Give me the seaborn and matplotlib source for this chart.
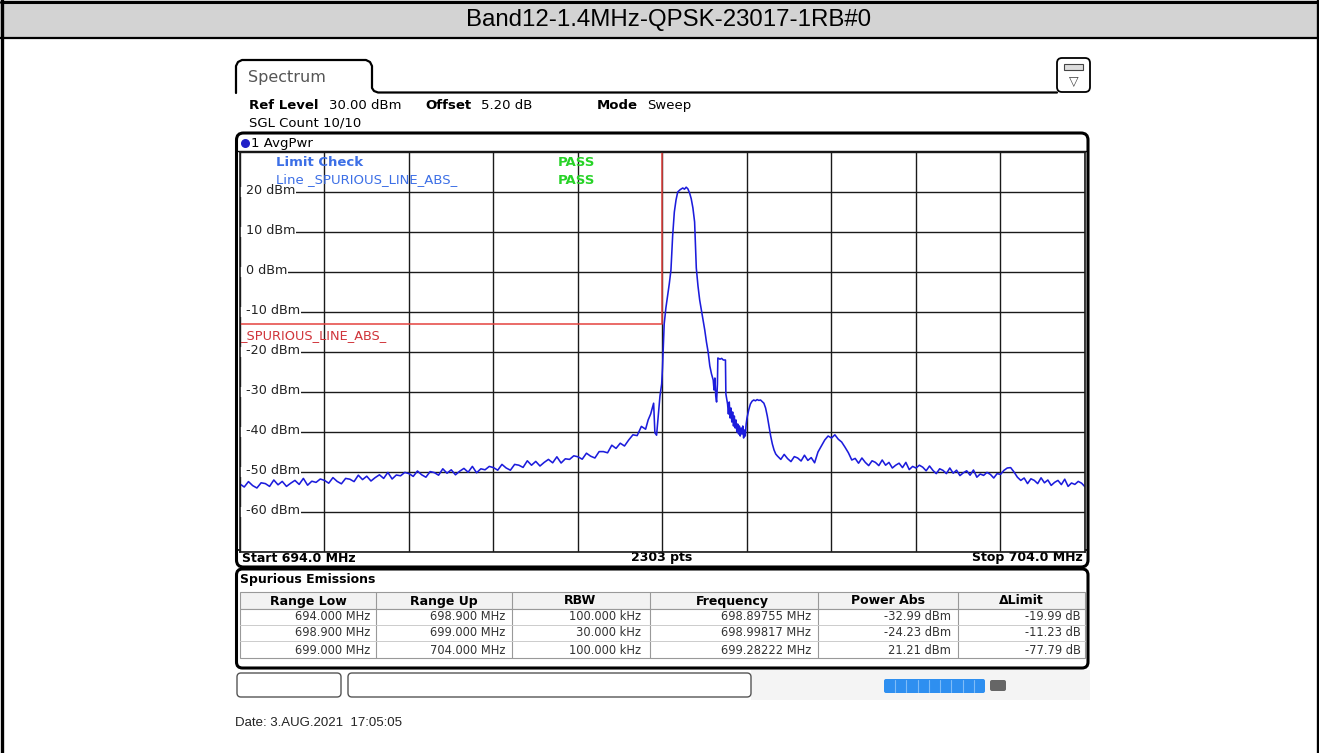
import numpy as np
import pandas as pd
import matplotlib
matplotlib.use("Agg")
import matplotlib.pyplot as plt
from matplotlib.patches import FancyBboxPatch, Rectangle
import seaborn as sns

# ---------------- data ----------------
title = "Band12-1.4MHz-QPSK-23017-1RB#0"
start_mhz, stop_mhz = 694.0, 704.0
x_grid = [694, 695, 696, 697, 698, 699, 700, 701, 702, 703, 704]
y_grid = [30, 20, 10, 0, -10, -20, -30, -40, -50, -60, -70]
y_labels = [20, 10, 0, -10, -20, -30, -40, -50, -60]

# noise floor below the carrier (evenly swept)
seg_a_start, seg_a_stop = 694.00, 698.80
seg_a_dbm = [-53.0, -53.75, -52.4, -53.4, -54.0, -52.7, -52.9, -53.6, -52.0, -53.2,
             -52.35, -53.6, -52.8, -52.1, -53.1, -51.6, -53.3, -52.3, -52.6, -51.75,
             -52.1, -52.8, -51.4, -52.35, -52.95, -51.6, -51.8, -52.4, -50.8, -51.9,
             -51.05, -52.25, -51.4, -50.7, -51.6, -50.1, -51.75, -50.75, -50.95, -50.1,
             -50.4, -51.1, -49.75, -50.7, -51.3, -49.9, -50.15, -50.8, -49.2, -50.3,
             -49.45, -50.7, -49.8, -49.1, -50.05, -48.6, -50.2, -49.2, -49.45, -48.6,
             -48.9, -49.55, -48.1, -49.0, -49.55, -48.1, -48.3, -48.85, -47.2, -48.3,
             -47.35, -48.5, -47.6, -46.85, -47.7, -46.2, -47.75, -46.7, -46.85, -45.95,
             -46.2, -46.8, -45.3, -46.05, -46.5, -44.9, -44.9, -45.2, -43.3, -44.1,
             -42.8, -43.5, -42.0, -40.7, -40.9, -38.6, -39.3]

# carrier region
seg_b_freq = [698.83, 698.86, 698.88, 698.895, 698.91, 698.93, 698.95, 698.97, 698.99, 699.00,
              699.02, 699.04, 699.06, 699.08, 699.10, 699.12, 699.14, 699.16, 699.18, 699.21,
              699.24, 699.26, 699.28, 699.30, 699.32, 699.34, 699.36, 699.38, 699.40, 699.42,
              699.44, 699.46, 699.48, 699.50, 699.52, 699.54, 699.56, 699.58, 699.60, 699.61,
              699.62, 699.63, 699.64, 699.65, 699.655, 699.68, 699.70, 699.72, 699.745, 699.75,
              699.77, 699.78, 699.79, 699.80, 699.81, 699.82, 699.83, 699.84, 699.85, 699.86,
              699.87, 699.88, 699.89, 699.90, 699.91, 699.92, 699.93, 699.94, 699.95, 699.96,
              699.97, 699.98, 699.99, 700.00, 700.02, 700.04, 700.06, 700.08, 700.10, 700.12,
              700.14, 700.16, 700.18, 700.20, 700.22, 700.24, 700.26, 700.28, 700.30, 700.32,
              700.34]
seg_b_dbm = [-37.0, -35.5, -34.0, -32.8, -40.2, -40.8, -36.0, -31.0, -28.0, -24.0,
             -13.0, -9.0, -6.0, -3.0, 0.5, 9.0, 15.0, 18.0, 20.0, 20.6,
             21.0, 20.7, 21.2, 20.8, 19.8, 18.3, 16.0, 12.5, 1.0, -3.5,
             -7.0, -9.5, -12.0, -14.5, -17.5, -20.0, -23.5, -25.5, -27.0, -29.5,
             -26.5, -31.0, -32.5, -28.0, -21.5, -21.8, -21.6, -22.0, -22.0, -30.5,
             -33.0, -35.5, -32.5, -36.5, -34.0, -37.5, -35.0, -38.5, -36.0, -39.0,
             -37.0, -40.0, -38.0, -40.5, -38.5, -41.0, -39.0, -40.5, -38.5, -41.5,
             -39.5, -41.0, -38.0, -36.5, -34.5, -33.0, -32.3, -32.0, -32.2, -31.9,
             -32.1, -32.0, -32.4, -32.8, -34.0, -36.0, -38.5, -41.0, -43.0, -44.5,
             -45.5]

# upper region (evenly swept)
seg_c_start, seg_c_stop = 700.36, 704.00
seg_c_dbm = [-46.0, -46.85, -45.6, -46.65, -47.4, -46.15, -46.5, -47.25, -45.8, -47.1,
             -46.4, -47.7, -45.0, -43.5, -42.0, -41.0, -41.5, -40.7, -41.8, -42.5,
             -43.8, -45.2, -47.0, -46.6, -47.8, -46.5, -47.6, -48.4, -47.2, -47.6,
             -48.4, -47.0, -48.3, -47.6, -49.0, -48.3, -47.8, -48.9, -47.6, -49.4,
             -48.6, -49.0, -48.3, -48.8, -49.7, -48.5, -49.6, -50.4, -49.2, -49.6,
             -50.4, -49.0, -50.3, -49.55, -50.9, -50.2, -49.7, -50.8, -49.5, -51.3,
             -50.5, -50.85, -50.1, -50.6, -51.5, -50.4, -50.6, -49.6, -49.0, -48.9,
             -50.0, -51.3, -52.1, -51.5, -52.9, -51.7, -52.1, -52.9, -51.45, -52.7,
             -52.0, -53.35, -52.6, -52.1, -53.15, -51.8, -53.6, -52.75, -53.1, -52.35,
             -52.8, -53.7]

limit_freq = [694.0, 699.0, 699.0]
limit_dbm = [-13.0, -13.0, 30.0]

table_headers = ["Range Low", "Range Up", "RBW", "Frequency", "Power Abs", "\u0394Limit"]
table_rows = [
    ["694.000 MHz", "698.900 MHz", "100.000 kHz", "698.89755 MHz", "-32.99 dBm", "-19.99 dB"],
    ["698.900 MHz", "699.000 MHz", "30.000 kHz", "698.99817 MHz", "-24.23 dBm", "-11.23 dB"],
    ["699.000 MHz", "704.000 MHz", "100.000 kHz", "699.28222 MHz", "21.21 dBm", "-77.79 dB"],
]

# ---------------- build trace ----------------
fa = np.linspace(seg_a_start, seg_a_stop, len(seg_a_dbm))
fc = np.linspace(seg_c_start, seg_c_stop, len(seg_c_dbm))
trace = pd.DataFrame({
    "freq": np.concatenate([fa, seg_b_freq, fc]),
    "dbm": np.concatenate([seg_a_dbm, seg_b_dbm, seg_c_dbm]),
})
limit = pd.DataFrame({"freq": limit_freq, "dbm": limit_dbm})

sns.set_style("white")
plt.rcParams["font.family"] = ["DejaVu Sans"]

W, H = 1319, 753
fig = plt.figure(figsize=(W / 100, H / 100), dpi=100)
fig.patch.set_facecolor("white")

# pixel overlay axes
bg = fig.add_axes([0, 0, 1, 1], zorder=0)
bg.set_xlim(0, W)
bg.set_ylim(H, 0)
bg.axis("off")

NARROW = ["Liberation Sans Narrow", "Liberation Sans", "DejaVu Sans"]
ARIAL = ["Liberation Sans", "DejaVu Sans"]

def T(x, y, s, size=9.5, color="black", weight="normal", ha="left", va="center", family=None, **kw):
    bg.text(x, y, s, fontsize=size, color=color, fontweight=weight, ha=ha, va=va,
            family=family if family else ["DejaVu Sans"], **kw)

def rbox(x0, y0, x1, y1, r=6, lw=1.5, ec="black", fc="none", z=1):
    bg.add_patch(FancyBboxPatch((x0, y0), x1 - x0, y1 - y0,
                                boxstyle=f"round,pad=0,rounding_size={r}",
                                lw=lw, ec=ec, fc=fc, zorder=z))

# title band and outer border
bg.add_patch(Rectangle((0, 0), W, 38, fc="#d3d3d3", ec="none", zorder=0))
bg.plot([1, W - 1.5], [1.5, 1.5], color="black", lw=2.2)
bg.plot([0, W], [38, 38], color="black", lw=1.6)
bg.plot([1.5, 1.5], [0, H], color="black", lw=2.4)
bg.plot([W - 1.5, W - 1.5], [0, H], color="black", lw=2.4)
T(W / 2 + 9, 19.5, title, size=17.3, family=NARROW, ha="center")

# spectrum tab
tab_x = [236, 236, 238, 242, 366, 370, 372, 372, 374, 378, 1057]
tab_y = [93, 66, 62, 60, 60, 62, 66, 88, 91, 92.5, 92.5]
bg.plot(tab_x, tab_y, color="black", lw=1.6)
T(248, 77, "Spectrum", size=11.5, color="#555555")
# icon
rbox(1057, 58, 1090, 92, r=5, lw=1.3)
bg.add_patch(Rectangle((1064, 64), 19, 6, fc="#dddddd", ec="#444444", lw=0.8))
T(1073.5, 81, "\u25bd", size=9, color="#444444", ha="center")

# header info
T(249, 105, "Ref Level", weight="bold")
T(329, 105, "30.00 dBm")
T(425, 105, "Offset", weight="bold")
T(481, 105, "5.20 dB")
T(597, 105, "Mode", weight="bold")
T(647, 105, "Sweep")
T(249, 123, "SGL Count 10/10")

# diagram frame
rbox(236.5, 133, 1088, 567, r=7, lw=2.2)
bg.plot([237, 1087], [150.5, 150.5], color="black", lw=1.0)
bg.scatter([245], [143], s=30, color="#2020c8", zorder=3)
T(251, 143, "1 AvgPwr")

# footer of diagram
T(242, 558, "Start 694.0 MHz", weight="bold", size=9)
T(662, 558, "2303 pts", weight="bold", size=9, ha="center")
T(1083, 558, "Stop 704.0 MHz", weight="bold", size=9, ha="right")
bg.plot([237, 1087], [549.5, 549.5], color="black", lw=1.2)

# spurious emission panel
rbox(236.5, 569, 1088, 668, r=6, lw=2.2)
T(240, 580, "Spurious Emissions", weight="bold", size=9)
col_edges = [240, 376, 512, 650, 818, 958, 1085]
head_cx = [308, 444, 580, 732, 888, 1021]
val_rx = [370, 505, 641, 811, 951, 1081]
ty0, ty_head, ty_end = 592, 609, 658
bg.add_patch(Rectangle((240, ty0), 845, ty_head - ty0, fc="#f2f2f2", ec="#999999", lw=0.8))
bg.add_patch(Rectangle((240, ty_head), 845, ty_end - ty_head, fc="white", ec="#999999", lw=0.8))
for xe in col_edges[1:-1]:
    bg.plot([xe, xe], [ty0, ty_end], color="#999999", lw=0.8)
for yy in [625, 641]:
    bg.plot([240, 1085], [yy, yy], color="#cccccc", lw=0.7)
for cx, h in zip(head_cx, table_headers):
    T(cx, 601, h, weight="bold", size=9, ha="center")
for r, yy in zip(table_rows, [617, 633, 650]):
    for rx, v in zip(val_rx, r):
        T(rx, yy, v, size=8.3, color="#333333", ha="right")

# bottom status bar
rbox(237, 673, 341, 697, r=4, lw=1.0, ec="#555555")
rbox(348, 673, 751, 697, r=4, lw=1.0, ec="#555555")
bg.add_patch(Rectangle((751, 670), 339, 30, fc="#f4f4f4", ec="none", zorder=0))
rbox(884, 679, 985, 693, r=2, lw=0, ec="none", fc="#2e8ff0", z=2)
for xb in np.linspace(884, 985, 10)[1:-1]:
    bg.plot([xb, xb], [680, 692], color="#7fbcf7", lw=0.8, zorder=3)
rbox(990, 680, 1006, 691, r=2, lw=0, ec="none", fc="#666666", z=2)

T(235, 723, "Date: 3.AUG.2021  17:05:05", size=9.5, family=ARIAL, color="#222222")

# ---------------- spectrum axes ----------------
ax = fig.add_axes([240 / W, 1 - 552 / H, 845 / W, 400 / H], zorder=2)
ax.set_facecolor("white")
sns.lineplot(data=limit, x="freq", y="dbm", ax=ax, color="#e4433f", lw=1.1,
             sort=False, estimator=None, zorder=3)
sns.lineplot(data=trace, x="freq", y="dbm", ax=ax, color="#1c1cdc", lw=1.15,
             sort=False, estimator=None, zorder=4)
ax.set_xlim(start_mhz, stop_mhz)
ax.set_ylim(y_grid[-1], y_grid[0])
ax.set_xticks(x_grid)
ax.set_yticks(y_grid)
ax.grid(True, color="#1a1a1a", lw=1.0)
ax.tick_params(length=0, labelbottom=False, labelleft=False)
ax.set_xlabel("")
ax.set_ylabel("")
for sp in ax.spines.values():
    sp.set_color("#1a1a1a")
    sp.set_linewidth(1.2)
    sp.set_zorder(6)

ytr = ax.get_yaxis_transform()
for v in y_labels:
    ax.add_patch(Rectangle((0.0, v - 1.3), 0.012, 2.6, transform=ytr,
                           fc="white", ec="none", zorder=4.5))
    ax.text(0.007, v + 0.3, f"{v} dBm", transform=ytr, fontsize=9.2, color="#222222",
            ha="left", va="center", zorder=5,
            bbox=dict(boxstyle="square,pad=0.08", fc="white", ec="none"))

ax.text(0.043, 27.5, "Limit Check", transform=ytr, fontsize=9.5, color="#3c6fe6",
        fontweight="bold", va="center", zorder=6)
ax.text(0.376, 27.5, "PASS", transform=ytr, fontsize=9.5, color="#27d327",
        fontweight="bold", va="center", zorder=6)
ax.text(0.043, 23.0, "Line _SPURIOUS_LINE_ABS_", transform=ytr, fontsize=9.5,
        color="#3c6fe6", va="center", zorder=6)
ax.text(0.376, 23.0, "PASS", transform=ytr, fontsize=9.5, color="#27d327",
        fontweight="bold", va="center", zorder=6)
ax.text(0.0, -15.8, "_SPURIOUS_LINE_ABS_", transform=ytr, fontsize=9.3,
        color="#d0343a", va="center", zorder=6)

fig.savefig("out.png", dpi=100)
